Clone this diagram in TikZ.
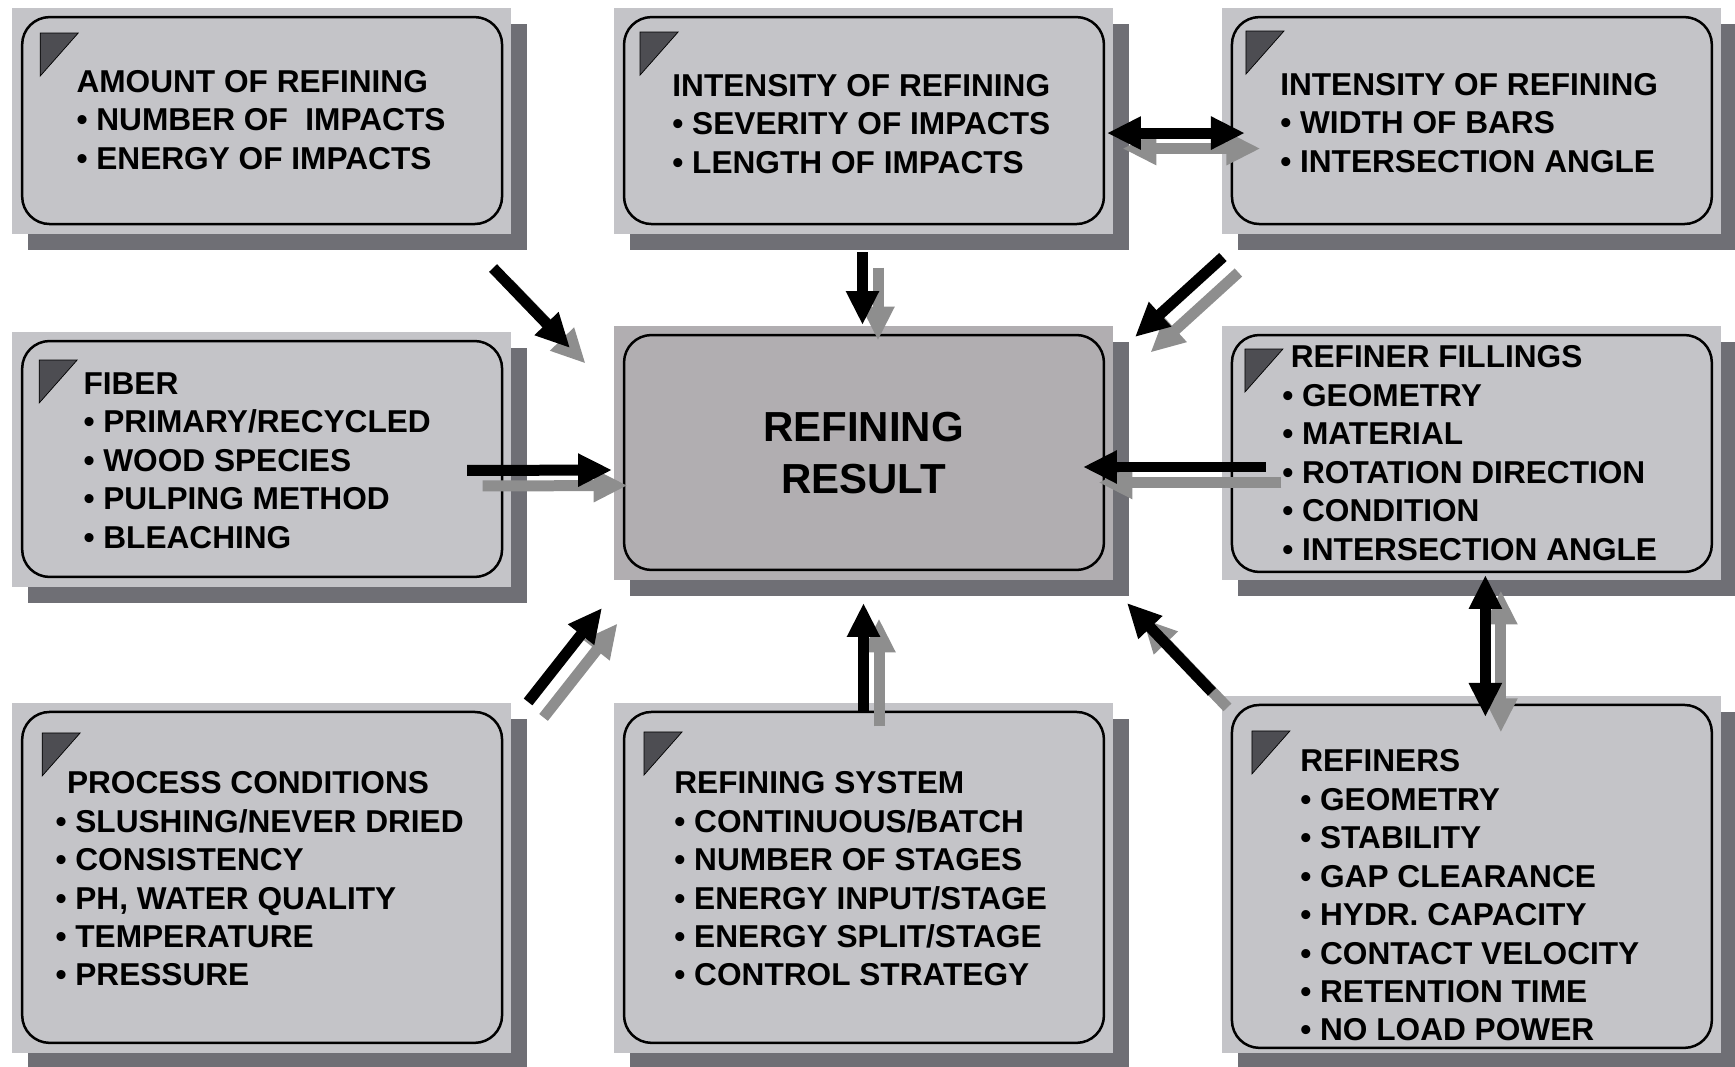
\documentclass[tikz,border=0pt]{standalone}
\usepackage{fontspec}
\setmainfont{Liberation Sans}
\usetikzlibrary{positioning, arrows.meta, shadows}
\definecolor{panelgray}{HTML}{C4C4C8}
\definecolor{coregray}{HTML}{B1AEB1}
\definecolor{shadegray}{HTML}{6F6F75}
\definecolor{flaggray}{HTML}{4D4D52}
\definecolor{arrowgray}{HTML}{8E8E8E}

\begin{document}
\begin{tikzpicture}[
  x=0.02cm, y=-0.02cm,
  panel/.style={fill=panelgray, minimum width=9.98cm, inner sep=0pt, outer sep=0pt,
                drop shadow={shadow xshift=0.32cm, shadow yshift=-0.32cm,
                             fill=shadegray, opacity=1}},
  frame/.style={draw=black, line width=0.05cm, rounded corners=0.55cm},
  flag/.style={fill=flaggray, draw=black, line width=0.4pt},
  txt/.style={font=\fontsize{18}{21.9}\selectfont\bfseries, align=left,
              anchor=base west, inner sep=0pt},
  sig/.style={-{Triangle[length=0.68cm, width=0.62cm]}, line width=0.22cm},
  dbl/.style={{Triangle[length=0.68cm, width=0.62cm]}-{Triangle[length=0.68cm, width=0.62cm]},
              line width=0.22cm}
]
\useasboundingbox (0,0) rectangle (1735,1067);

% panels
\node[panel, fill=coregray, minimum height=5.08cm] (result) at (863.5,453) {};
\node[panel, minimum height=4.52cm, above=1.84cm of result] (intensity) {};
\node[panel, minimum height=4.52cm, above left=1.84cm and 2.06cm of result] (amount) {};
\node[panel, minimum height=4.52cm, right=2.18cm of intensity] (bars) {};
\node[panel, minimum height=5.1cm, left=2.06cm of result, yshift=-0.13cm] (fiber) {};
\node[panel, minimum height=5.08cm, right=2.18cm of result] (fillings) {};
\node[panel, minimum height=7cm, below=2.46cm of result] (system) {};
\node[panel, minimum height=7cm, left=2.06cm of system] (conditions) {};
\node[panel, minimum height=7.14cm, right=2.18cm of system, yshift=0.07cm] (refiners) {};

\foreach \p/\b in {amount/10, intensity/10, bars/10, fiber/10, result/10,
                   fillings/8, conditions/10, system/10, refiners/5}
  \draw[frame] ([shift={(10,9)}]\p.north west) rectangle ([shift={(-9,-\b)}]\p.south east);

\foreach \p/\fx/\fy in {amount/28/25, intensity/26/24, bars/24/23, fiber/27/28,
                        fillings/23/23, conditions/30/30, system/30/29, refiners/30/35}
  \filldraw[flag] ([shift={(\fx,\fy)}]\p.north west) -- ++(38,0) -- ++(-38,43) -- cycle;

% texts (anchored at the baseline of the last line)
\node[txt] (amounttxt) at ([shift={(64,161)}]amount.north west)
  {AMOUNT OF REFINING\\
   \textbullet\ NUMBER OF\ \ IMPACTS\\
   \textbullet\ ENERGY OF IMPACTS};
\node[txt] (intensitytxt) at ([shift={(58,165)}]intensity.north west)
  {INTENSITY OF REFINING\\
   \textbullet\ SEVERITY OF IMPACTS\\
   \textbullet\ LENGTH OF IMPACTS};
\node[txt] (barstxt) at ([shift={(58,164)}]bars.north west)
  {INTENSITY OF REFINING\\
   \textbullet\ WIDTH OF BARS\\
   \textbullet\ INTERSECTION ANGLE};
\node[txt] (fibertxt) at ([shift={(71,216)}]fiber.north west)
  {FIBER\\
   \textbullet\ PRIMARY/RECYCLED\\
   \textbullet\ WOOD SPECIES\\
   \textbullet\ PULPING METHOD\\
   \textbullet\ BLEACHING};
\node[txt] (fillingstxt) at ([shift={(60,234)}]fillings.north west)
  {\hspace*{0.17cm}REFINER FILLINGS\\
   \textbullet\ GEOMETRY\\
   \textbullet\ MATERIAL\\
   \textbullet\ ROTATION DIRECTION\\
   \textbullet\ CONDITION\\
   \textbullet\ INTERSECTION ANGLE};
\node[txt] (conditionstxt) at ([shift={(43,283)}]conditions.north west)
  {\hspace*{0.23cm}PROCESS CONDITIONS\\
   \textbullet\ SLUSHING/NEVER DRIED\\
   \textbullet\ CONSISTENCY\\
   \textbullet\ PH, WATER QUALITY\\
   \textbullet\ TEMPERATURE\\
   \textbullet\ PRESSURE};
\node[txt] (systemtxt) at ([shift={(60,283)}]system.north west)
  {REFINING SYSTEM\\
   \textbullet\ CONTINUOUS/BATCH\\
   \textbullet\ NUMBER OF STAGES\\
   \textbullet\ ENERGY INPUT/STAGE\\
   \textbullet\ ENERGY SPLIT/STAGE\\
   \textbullet\ CONTROL STRATEGY};
\node[txt] (refinerstxt) at ([shift={(78,345)}]refiners.north west)
  {REFINERS\\
   \textbullet\ GEOMETRY\\
   \textbullet\ STABILITY\\
   \textbullet\ GAP CLEARANCE\\
   \textbullet\ HYDR. CAPACITY\\
   \textbullet\ CONTACT VELOCITY\\
   \textbullet\ RETENTION TIME\\
   \textbullet\ NO LOAD POWER};
\node[font=\fontsize{23.9}{29.6}\selectfont\bfseries, align=center] (resulttxt) at (result)
  {REFINING\\RESULT};

% arrows, grey copy first
\foreach \col/\d in {arrowgray/0.31, black/0}
{
\begin{scope}[transform canvas={shift={(\d cm,-\d cm)}}, color=\col]
  \draw[sig] ([shift={(-18,34)}]amount.south east) -- ([shift={(-44,22)}]result.north west);
  \draw[sig] ([shift={(-1,18)}]intensity.south) -- ([shift={(-1,-1)}]result.north);
  \draw[sig] ([shift={(1,23)}]bars.south west) -- ([shift={(22,11)}]result.north east);
  \draw[sig] ([shift={(-44,11)}]fiber.east) -- ([shift={(-2,17)}]result.west);
  \draw[sig] ([shift={(44,14)}]fillings.west) -- ([shift={(-30,14)}]result.east);
  \draw[sig] ([shift={(17,-1)}]conditions.north east) -- ([shift={(-12,28)}]result.south west);
  \draw[sig] ([shift={(0,8)}]system.north) -- ([shift={(0,23)}]result.south);
  \draw[sig] ([shift={(-10,-4)}]refiners.north west) -- ([shift={(14,23)}]result.south east);
  \draw[dbl] ([shift={(-6,12)}]intensity.east) -- ([shift={(23,12)}]bars.west);
  \draw[dbl] ([shift={(14,-5)}]fillings.south) -- ([shift={(14,21)}]refiners.north);
\end{scope}
}

\end{tikzpicture}
\end{document}
